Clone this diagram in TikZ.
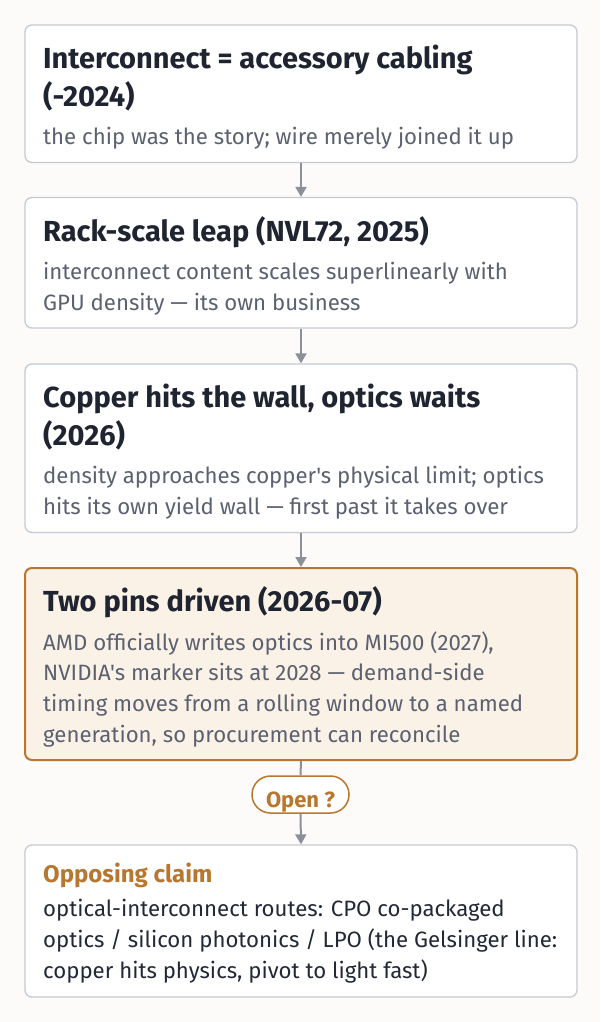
\documentclass[tikz,border=0pt]{standalone}
\usepackage{fontspec}
\setmainfont{Fira Sans}[Ligatures=TeXOff]
\usetikzlibrary{arrows.meta}
\definecolor{bg}{HTML}{FCFBF9}
\definecolor{bord}{HTML}{C6CAD1}
\definecolor{ttl}{HTML}{1F2431}
\definecolor{subc}{HTML}{5B6170}
\definecolor{bodyc}{HTML}{222836}
\definecolor{org}{HTML}{B8772F}
\definecolor{hl}{HTML}{FBF2E7}
\definecolor{arr}{HTML}{8B909B}
\begin{document}
\begin{tikzpicture}[x=1pt,y=-1pt,
 box/.style={draw=bord, line width=1.3pt, fill=white, rounded corners=7pt, inner sep=0pt, minimum width=552pt},
 hbox/.style={box, draw=org, fill=hl, line width=2pt},
 ttlt/.style={anchor=base west, inner sep=0pt, font=\fontsize{29}{32}\selectfont\bfseries, text=ttl},
 subt/.style={anchor=base west, inner sep=0pt, font=\fontsize{22.2}{26}\selectfont, text=subc},
 bodyt/.style={subt, text=bodyc},
 headt/.style={anchor=base west, inner sep=0pt, font=\fontsize{24}{28}\selectfont\bfseries, text=org},
 pillst/.style={draw=org, line width=1.5pt, fill=white, rounded corners=18.5pt, inner sep=0pt, minimum width=97pt, minimum height=37pt},
 conn/.style={draw=arr, line width=2pt, -{Triangle[width=11pt,length=10pt]}},
 plainconn/.style={draw=arr, line width=2pt},
]
\fill[bg] (0,0) rectangle (600,1022);
\useasboundingbox (0,0) rectangle (600,1022);

\node[box, minimum height=137.5pt] (b1) at (301,93.75) {};
\node[box, minimum height=130.5pt] (b2) at (301,262.75) {};
\node[box, minimum height=168.5pt] (b3) at (301,448.25) {};
\node[hbox, minimum height=192pt] (b4) at (301,664) {};
\node[box, minimum height=152pt] (b5) at (301,921) {};

\node[pillst] (pill) at (300.5,794.5) {};
\node[anchor=base, inner sep=0pt, font=\fontsize{22}{26}\selectfont\bfseries, text=org] (pilltxt) at (300.5,807.5) {Open ?};

\draw[conn] (b1.south) -- (b2.north);
\draw[conn] (b2.south) -- (b3.north);
\draw[conn] (b3.south) -- (b4.north);
\draw[plainconn] (b4.south) -- (pill.north);
\draw[conn] (pill.south) -- (b5.north);

% box 1
\node[ttlt] (t1a) at (43,68.3) {Interconnect = accessory cabling};
\node[ttlt] (t1b) at (43,106.5) {(-2024)};
\node[subt] (s1a) at (43,145) {the chip was the story; wire merely joined it up};
% box 2
\node[ttlt] (t2a) at (43,241.7) {Rack-scale leap (NVL72, 2025)};
\node[subt] (s2a) at (43,279.3) {interconnect content scales superlinearly with};
\node[subt] (s2b) at (43,310) {GPU density — its own business};
% box 3
\node[ttlt] (t3a) at (43,407.3) {Copper hits the wall, optics waits};
\node[ttlt] (t3b) at (43,445.5) {(2026)};
\node[subt] (s3a) at (43,483.3) {density approaches copper's physical limit; optics};
\node[subt] (s3b) at (43,514) {hits its own yield wall — first past it takes over};
% box 4
\node[ttlt] (t4a) at (43,611.7) {Two pins driven (2026-07)};
\node[subt] (s4a) at (43,650) {AMD officially writes optics into MI500 (2027),};
\node[subt] (s4b) at (43,680.7) {NVIDIA's marker sits at 2028 — demand-side};
\node[subt] (s4c) at (43,711.3) {timing moves from a rolling window to a named};
\node[subt] (s4d) at (43,742) {generation, so procurement can reconcile};
% box 5
\node[headt] (h5) at (43,882.7) {Opposing claim};
\node[bodyt] (s5a) at (43,916.7) {optical-interconnect routes: CPO co-packaged};
\node[bodyt] (s5b) at (43,947.7) {optics / silicon photonics / LPO (the Gelsinger line:};
\node[bodyt] (s5c) at (43,978.5) {copper hits physics, pivot to light fast)};
\end{tikzpicture}
\end{document}
